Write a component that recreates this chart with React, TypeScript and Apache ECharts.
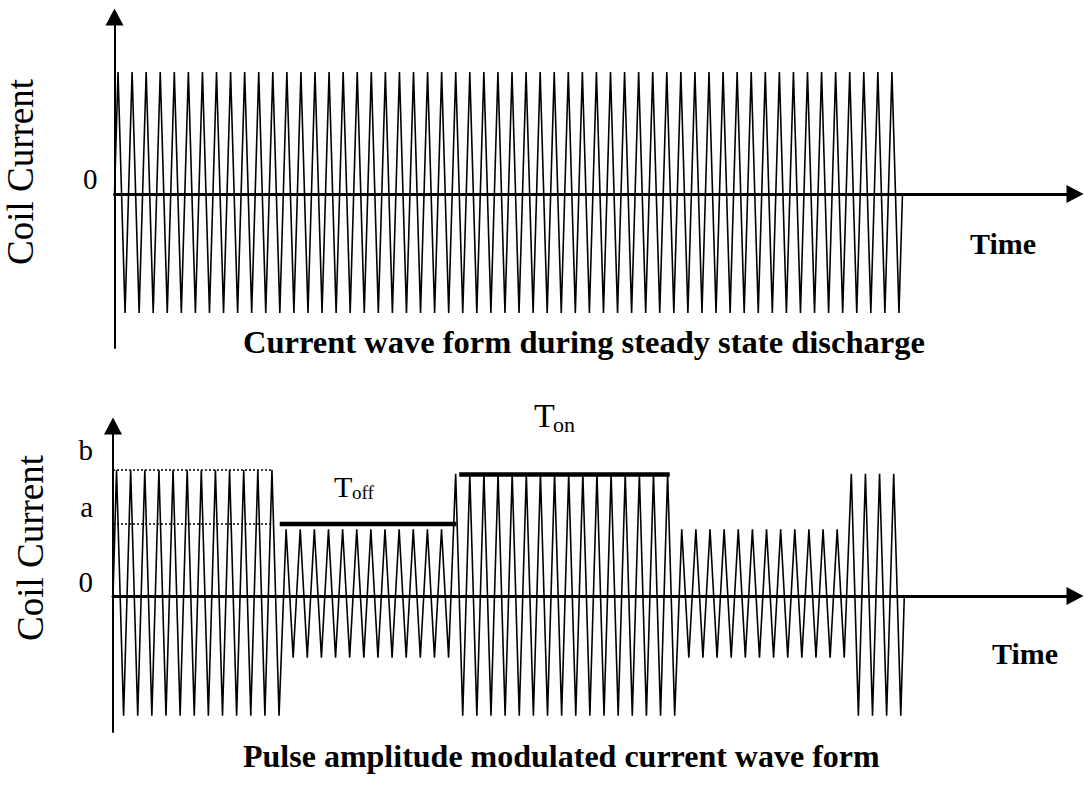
import React, { useEffect, useRef } from "react";
import * as echarts from "echarts";

// ---- data ----
// top panel: steady state discharge (cycles per segment, peak / trough per segment, in units of peak "b")
const TOP_CYCLES = [56];
const TOP_PEAKS = [1.0];
const TOP_TROUGHS = [-0.975];

// bottom panel: pulse amplitude modulated wave
const BOTTOM_CYCLES = [12, 12, 16, 12, 4];
const BOTTOM_PEAKS = [1.0, 0.53, 0.97, 0.53, 0.97];
const BOTTOM_TROUGHS = [-0.95, -0.49, -0.95, -0.49, -0.95];

const LEVEL_B = 1.0;
const LEVEL_A = 0.571;
const BOTTOM_TICK_VALUES = [0, LEVEL_A, LEVEL_B];
const BOTTOM_TICK_LABELS = ["0", "a", "b"];
const TOP_TICK_VALUES = [0];
const TOP_TICK_LABELS = ["0"];

const DOTTED_SPAN = [0, 11.25];
const TOFF_SPAN = [11.8, 24.3];
const TON_SPAN = [24.5, 39.4];
const TON_LEVEL = 0.965;

const SERIF = "'Liberation Serif', 'Times New Roman', serif";

function buildWave(cycles: number[], peaks: number[], troughs: number[]) {
  const pts: number[][] = [[0, 0]];
  let t = 0;
  for (let i = 0; i < cycles.length; i++) {
    for (let k = 0; k < cycles[i]; k++) {
      pts.push([t + 0.25, peaks[i]]);
      pts.push([t + 0.75, troughs[i]]);
      t += 1;
    }
  }
  pts.push([t, 0]);
  return pts;
}

export default function App() {
  const ref = useRef<HTMLDivElement>(null);
  useEffect(() => {
    if (!ref.current) return;
    const chart = echarts.init(ref.current, null, { renderer: "svg" });
    const topWave = buildWave(TOP_CYCLES, TOP_PEAKS, TOP_TROUGHS);
    const bottomWave = buildWave(BOTTOM_CYCLES, BOTTOM_PEAKS, BOTTOM_TROUGHS);

    const axisArrow = (w: number) => ({
      show: true,
      onZero: true,
      symbol: ["none", "triangle"],
      symbolSize: [18, 17],
      lineStyle: { color: "#000", width: w },
    });

    const labelText = (vals: number[], labels: string[]) => (v: number) => {
      for (let i = 0; i < vals.length; i++) if (Math.abs(vals[i] - v) < 1e-6) return labels[i];
      return "";
    };

    const option: any = {
      animation: false,
      backgroundColor: "#fff",
      grid: [
        { left: 114.5, top: 17, width: 960.5, height: 331, outerBoundsMode: "none", containLabel: false },
        { left: 113, top: 426, width: 962, height: 306, outerBoundsMode: "none", containLabel: false },
      ],
      xAxis: [
        {
          gridIndex: 0, type: "value", min: 0, max: 68.26,
          axisLine: axisArrow(3), axisTick: { show: false }, axisLabel: { show: false }, splitLine: { show: false },
        },
        {
          gridIndex: 1, type: "value", min: 0, max: 68.08,
          axisLine: axisArrow(3), axisTick: { show: false }, axisLabel: { show: false }, splitLine: { show: false },
        },
      ],
      yAxis: [
        {
          gridIndex: 0, type: "value", min: -1.262, max: 1.451,
          axisLine: { ...axisArrow(2), onZero: false },
          axisTick: { show: false }, splitLine: { show: false },
          axisLabel: {
            show: true, customValues: TOP_TICK_VALUES, margin: 17,
            formatter: labelText(TOP_TICK_VALUES, TOP_TICK_LABELS),
            color: "#000", fontFamily: SERIF, fontSize: 29, verticalAlign: "bottom",
            padding: [0, 0, 1, 0],
          },
        },
        {
          gridIndex: 1, type: "value", min: -1.079, max: 1.349,
          axisLine: { ...axisArrow(2), onZero: false },
          axisTick: { show: false }, splitLine: { show: false },
          axisLabel: {
            show: true, customValues: BOTTOM_TICK_VALUES, margin: 20,
            formatter: (v: number) => {
              const t = labelText(BOTTOM_TICK_VALUES, BOTTOM_TICK_LABELS)(v);
              return t === "0" ? "{z|0}" : t === "a" ? "{a|a}" : t === "b" ? "{b|b}" : "";
            },
            color: "#000", fontFamily: SERIF, fontSize: 29, verticalAlign: "bottom",
            rich: {
              z: { fontFamily: SERIF, fontSize: 29, color: "#000", padding: [0, 0, 0, 0] },
              a: { fontFamily: SERIF, fontSize: 29, color: "#000", padding: [0, 0, 3, 0] },
              b: { fontFamily: SERIF, fontSize: 29, color: "#000", padding: [0, 0, 5, 0] },
            },
          },
        },
      ],
      series: [
        {
          type: "line", xAxisIndex: 0, yAxisIndex: 0, data: topWave, symbol: "none",
          lineStyle: { color: "#000", width: 1.6 }, z: 3,
        },
        {
          type: "line", xAxisIndex: 1, yAxisIndex: 1, data: bottomWave, symbol: "none",
          lineStyle: { color: "#000", width: 1.6 }, z: 3,
        },
        {
          type: "line", xAxisIndex: 1, yAxisIndex: 1, symbol: "none",
          data: [[DOTTED_SPAN[0], LEVEL_B], [DOTTED_SPAN[1], LEVEL_B]],
          lineStyle: { color: "#000", width: 1.5, type: [2, 2] }, z: 4,
        },
        {
          type: "line", xAxisIndex: 1, yAxisIndex: 1, symbol: "none",
          data: [[DOTTED_SPAN[0], LEVEL_A], [DOTTED_SPAN[1], LEVEL_A]],
          lineStyle: { color: "#000", width: 1.5, type: [2, 2] }, z: 4,
        },
        {
          type: "line", xAxisIndex: 1, yAxisIndex: 1, symbol: "none",
          data: [[TOFF_SPAN[0], LEVEL_A], [TOFF_SPAN[1], LEVEL_A]],
          lineStyle: { color: "#000", width: 4.5 }, z: 5,
        },
        {
          type: "line", xAxisIndex: 1, yAxisIndex: 1, symbol: "none",
          data: [[TON_SPAN[0], TON_LEVEL], [TON_SPAN[1], TON_LEVEL]],
          lineStyle: { color: "#000", width: 4.5 }, z: 5,
        },
      ],
      graphic: [
        {
          type: "text", x: 20.4, y: 172, rotation: Math.PI / 2,
          style: { text: "Coil Current", font: `37px ${SERIF}`, fill: "#000", textAlign: "center", textVerticalAlign: "middle" },
        },
        {
          type: "text", x: 30.4, y: 548, rotation: Math.PI / 2,
          style: { text: "Coil Current", font: `37px ${SERIF}`, fill: "#000", textAlign: "center", textVerticalAlign: "middle" },
        },
        {
          type: "text", x: 970, y: 243,
          style: { text: "Time", font: `bold 30px ${SERIF}`, fill: "#000", textAlign: "left", textVerticalAlign: "middle" },
        },
        {
          type: "text", x: 992, y: 653,
          style: { text: "Time", font: `bold 30px ${SERIF}`, fill: "#000", textAlign: "left", textVerticalAlign: "middle" },
        },
        {
          type: "text", x: 243, y: 342,
          style: { text: "Current wave form during steady state discharge", font: `bold 32.5px ${SERIF}`, fill: "#000", textAlign: "left", textVerticalAlign: "middle" },
        },
        {
          type: "text", x: 243, y: 756,
          style: { text: "Pulse amplitude modulated current wave form", font: `bold 32px ${SERIF}`, fill: "#000", textAlign: "left", textVerticalAlign: "middle" },
        },
        {
          type: "text", x: 534, y: 427 - 0.34 * 34,
          style: { text: "T", font: `34px ${SERIF}`, fill: "#000", textAlign: "left", textVerticalAlign: "middle" },
        },
        {
          type: "text", x: 553, y: 432 - 0.34 * 22,
          style: { text: "on", font: `22px ${SERIF}`, fill: "#000", textAlign: "left", textVerticalAlign: "middle" },
        },
        {
          type: "text", x: 334, y: 497 - 0.34 * 30,
          style: { text: "T", font: `30px ${SERIF}`, fill: "#000", textAlign: "left", textVerticalAlign: "middle" },
        },
        {
          type: "text", x: 352, y: 499 - 0.34 * 19,
          style: { text: "off", font: `19px ${SERIF}`, fill: "#000", textAlign: "left", textVerticalAlign: "middle" },
        },
      ],
    };
    chart.setOption(option);
    return () => chart.dispose();
  }, []);
  return <div ref={ref} style={{ position: "fixed", left: 0, top: 0, width: 1084, height: 790, background: "#fff" }} />;
}
